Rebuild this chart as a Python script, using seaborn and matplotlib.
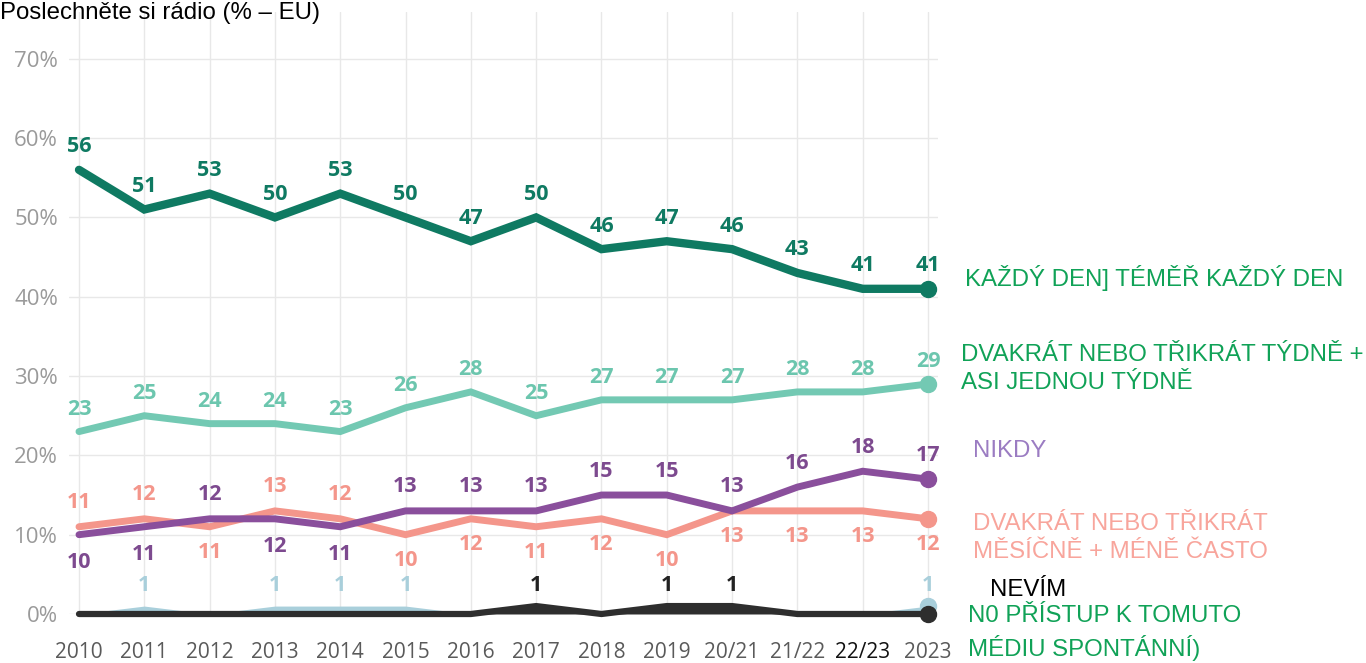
import numpy as np
import pandas as pd
from matplotlib import pyplot as plt
import seaborn as sns

# data
years = ['2010', '2011', '2012', '2013', '2014', '2015', '2016', '2017',
         '2018', '2019', '20/21', '21/22', '22/23', '2023']
daily = [56, 51, 53, 50, 53, 50, 47, 50, 46, 47, 46, 43, 41, 41]
weekly = [23, 25, 24, 24, 23, 26, 28, 25, 27, 27, 27, 28, 28, 29]
never = [10, 11, 12, 12, 11, 13, 13, 13, 15, 15, 13, 16, 18, 17]
monthly = [11, 12, 11, 13, 12, 10, 12, 11, 12, 10, 13, 13, 13, 12]
no_access = [0, 1, 0, 1, 1, 1, 0, 0, 0, 0, 0, 0, 0, 1]
dont_know = [0, 0, 0, 0, 0, 0, 0, 1, 0, 1, 1, 0, 0, 0]

# label side for each point: 1 = above, -1 = below
never_side = [-1, -1, 1, -1, -1, 1, 1, 1, 1, 1, 1, 1, 1, 1]
monthly_side = [1, 1, -1, 1, 1, -1, -1, -1, -1, -1, -1, -1, -1, -1]

sns.set_theme(style="white")
plt.rcParams['font.family'] = ['Open Sans', 'DejaVu Sans']

W, H = 1366, 663
fig = plt.figure(figsize=(W / 100, H / 100), dpi=100)
ax = fig.add_axes([69 / W, 49 / H, 869 / W, 602 / H])

x = np.arange(len(years))
df = pd.DataFrame({'x': x, 'daily': daily, 'weekly': weekly, 'never': never,
                   'monthly': monthly, 'no_access': no_access,
                   'dont_know': dont_know})

# bottom small series as areas
ax.fill_between(df['x'], 0, df['no_access'], color='#a9cfdb', lw=0, zorder=2, clip_on=False)
ax.fill_between(df['x'], 0, df['dont_know'], color='#2e2e2e', lw=0, zorder=3, clip_on=False)

series = [
    ('monthly', '#f4968b', 5),
    ('never', '#8a4f9c', 5),
    ('weekly', '#73c9b3', 5),
    ('daily', '#0f7a62', 6),
    ('dont_know', '#2e2e2e', 4.5),
]
for col, c, lw in series:
    sns.lineplot(data=df, x='x', y=col, color=c, lw=lw, ax=ax, zorder=4,
                 solid_joinstyle='miter', clip_on=False)
    ax.plot(df['x'].iloc[-1], df[col].iloc[-1], 'o', color=c, ms=11.5,
            zorder=5, clip_on=False)
ax.plot(df['x'].iloc[-1], df['no_access'].iloc[-1], 'o', color='#a9cfdb',
        ms=11.5, zorder=3, clip_on=False)


def label(i, v, color, dy):
    ax.annotate(str(v), (i, v), xytext=(0, dy), textcoords='offset pixels',
                ha='center', va='center', fontsize=15.5, fontweight='bold',
                color=color, zorder=6)


for i in x:
    label(i, daily[i], '#0f7a62', 23)
    label(i, weekly[i], '#6cc6ae', 22)
    label(i, never[i], '#7d4a8f', 24 if never_side[i] > 0 else -28)
    label(i, monthly[i], '#f4968b', 24 if monthly_side[i] > 0 else -26)
    if no_access[i]:
        label(i, no_access[i], '#a9cfdb', 21)
    if dont_know[i]:
        label(i, dont_know[i], '#222222', 21)

ax.set_xlim(-0.153, 13.153)
ax.set_ylim(0, 75.9)
ax.set_xticks(x)
ax.set_xticklabels(years)
ax.set_yticks(range(0, 80, 10))
ax.set_yticklabels([f'{v}%' for v in range(0, 80, 10)])
ax.set_xlabel('')
ax.set_ylabel('')
ax.tick_params(axis='x', length=19, color='#9a9a9a', width=1, pad=1,
               labelsize=15, labelcolor='#5a5a5a')
ax.tick_params(axis='y', length=0, pad=8, labelsize=16, labelcolor='#9a9a9a')
ax.get_xticklabels()[12].set_color('#111111')
ax.grid(True, color='#e8e8e8', lw=1)
for s in ax.spines.values():
    s.set_visible(False)

fig.text(0, 1 - 13 / H, 'Poslechněte si rádio (% – EU)', fontsize=17.3,
         family='Liberation Sans', va='center', ha='left', color='black')

green = '#10a257'
side_labels = [
    (965, 278, 'KAŽDÝ DEN] TÉMĚŘ KAŽDÝ DEN', green),
    (961, 369, 'DVAKRÁT NEBO TŘIKRÁT TÝDNĚ +\nASI JEDNOU TÝDNĚ', green),
    (973, 451, 'NIKDY', '#9b7cc2'),
    (973, 538, 'DVAKRÁT NEBO TŘIKRÁT\nMĚSÍČNĚ + MÉNĚ ČASTO', '#f8a59c'),
    (990, 590, 'NEVÍM', 'black'),
    (968, 633, 'N0 PŘÍSTUP K TOMUTO\nMÉDIU SPONTÁNNÍ)', green),
]
for px, py, txt, c in side_labels:
    fig.text(px / W, 1 - py / H, txt, fontsize=17.3, family='Liberation Sans',
             color=c, va='center', ha='left', linespacing=1.35)

plt.savefig('out.png', dpi=100)
plt.close()
